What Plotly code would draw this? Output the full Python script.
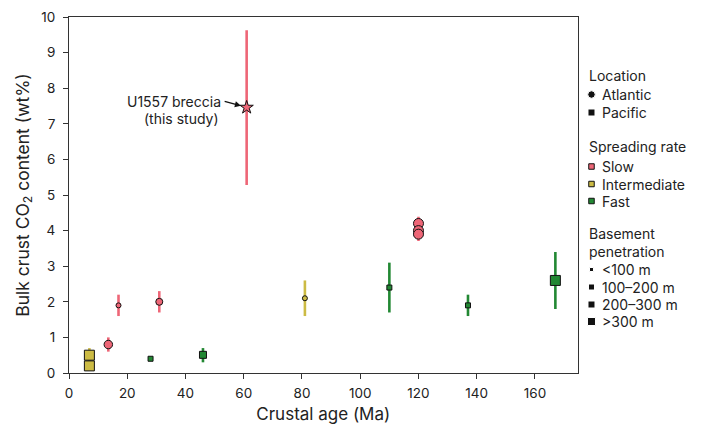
import plotly.graph_objects as go

# ---------------- data ----------------
age = [13.5, 17, 31, 120, 120, 120, 81, 7, 7, 28, 46, 110, 137, 167]
co2 = [0.8, 1.9, 2.0, 4.2, 4.0, 3.9, 2.1, 0.5, 0.2, 0.4, 0.51, 2.4, 1.9, 2.6]
co2_hi = [1.0, 2.2, 2.3, 4.39, 4.2, 4.1, 2.6, 0.7, 0.2, 0.45, 0.7, 3.1, 2.2, 3.4]
co2_lo = [0.6, 1.6, 1.7, 4.0, 3.71, 3.9, 1.6, 0.3, 0.2, 0.35, 0.3, 1.7, 1.6, 1.8]
location = ["Atlantic", "Atlantic", "Atlantic", "Atlantic", "Atlantic", "Atlantic", "Atlantic",
            "Pacific", "Pacific", "Pacific", "Pacific", "Pacific", "Pacific", "Pacific"]
rate = ["Slow", "Slow", "Slow", "Slow", "Slow", "Slow", "Intermediate",
        "Intermediate", "Intermediate", "Fast", "Fast", "Fast", "Fast", "Fast"]
penetration = ["200–300 m", "<100 m", "100–200 m", ">300 m", ">300 m", ">300 m", "<100 m",
               ">300 m", ">300 m", "<100 m", "100–200 m", "<100 m", "<100 m", ">300 m"]

# this study
study_age = [61]
study_co2 = [7.46]
study_hi = [9.63]
study_lo = [5.28]

# legend contents
loc_labels = ["Atlantic", "Pacific"]
rate_labels = ["Slow", "Intermediate", "Fast"]
pen_labels = ["<100 m", "100–200 m", "200–300 m", ">300 m"]

x_ticks = [0, 20, 40, 60, 80, 100, 120, 140, 160]
y_ticks = [0, 1, 2, 3, 4, 5, 6, 7, 8, 9, 10]

# ---------------- styles ----------------
FONT = "Inter"
rate_color = {"Slow": "#EE6677", "Intermediate": "#CCBB44", "Fast": "#228833"}
loc_symbol = {"Atlantic": "circle", "Pacific": "square"}
pen_size = {"<100 m": 5, "100–200 m": 7, "200–300 m": 8.5, ">300 m": 10}
pen_legend_size = {"<100 m": 4, "100–200 m": 6, "200–300 m": 7, ">300 m": 8}

W, H = 701, 429
ML, MR, MT, MB = 69, 0, 17, 56
plot_w = W - ML - MR
main_right_px = 577.5
dom_main = (main_right_px - ML) / plot_w
dom_leg0 = 0.81
leg_x0 = ML + dom_leg0 * plot_w

fig = go.Figure()

# main data traces grouped by location & spreading rate
groups = []
for loc, r in zip(location, rate):
    if (loc, r) not in groups:
        groups.append((loc, r))

for loc, r in groups:
    idx = [i for i in range(len(age)) if location[i] == loc and rate[i] == r]
    xs = [age[i] for i in idx]
    ys = [co2[i] for i in idx]
    up = [co2_hi[i] - co2[i] for i in idx]
    dn = [co2[i] - co2_lo[i] for i in idx]
    sz = [pen_size[penetration[i]] for i in idx]
    fig.add_trace(go.Scatter(
        x=xs, y=ys, mode="markers", showlegend=False,
        marker=dict(symbol=loc_symbol[loc], size=sz, color=rate_color[r], opacity=1,
                    line=dict(color="#111111", width=1)),
        error_y=dict(type="data", symmetric=False, array=up, arrayminus=dn,
                     color=rate_color[r], thickness=2.6, width=0),
    ))

# this study
fig.add_trace(go.Scatter(
    x=study_age, y=study_co2, mode="markers", showlegend=False,
    marker=dict(symbol="star", size=10, color=rate_color["Slow"], opacity=1,
                line=dict(color="#111111", width=1)),
    error_y=dict(type="data", symmetric=False,
                 array=[h - v for h, v in zip(study_hi, study_co2)],
                 arrayminus=[v - l for v, l in zip(study_co2, study_lo)],
                 color=rate_color["Slow"], thickness=2.6, width=0),
))

annotations = []
annotations.append(dict(
    x=study_age[0], y=study_co2[0], xref="x", yref="y",
    text="U1557 breccia", showarrow=True, xanchor="right", yanchor="middle",
    ax=-22, ay=-6, standoff=6, arrowhead=2, arrowsize=1, arrowwidth=1.2,
    arrowcolor="#111111", borderpad=3,
    font=dict(family=FONT, size=14, color="#222222")))
annotations.append(dict(
    x=study_age[0], y=study_co2[0], xref="x", yref="y",
    text="(this study)", showarrow=False, xanchor="right", yanchor="middle",
    xshift=-26, yshift=-11,
    font=dict(family=FONT, size=14, color="#222222")))

# ---------------- custom legend (auxiliary pixel axes) ----------------
mk_x = 591.5
txt_x = 600
title_x = 586.5
leg_font = dict(family=FONT, size=14, color="#222222")

def add_title(text, y):
    annotations.append(dict(x=title_x, y=y, xref="x2", yref="y2", text=text,
                            showarrow=False, xanchor="left", yanchor="middle",
                            align="left", font=leg_font))

def add_item(text, y):
    annotations.append(dict(x=txt_x, y=y, xref="x2", yref="y2", text=text,
                            showarrow=False, xanchor="left", yanchor="middle",
                            font=leg_font))

loc_y = [94.5, 112.5]
rate_y = [166.5, 184, 201]
pen_y = [269.5, 287, 304.5, 321.5]

add_title("Location", 75.5)
fig.add_trace(go.Scatter(
    x=[mk_x] * len(loc_labels), y=loc_y, xaxis="x2", yaxis="y2", mode="markers",
    showlegend=False, hoverinfo="skip",
    marker=dict(symbol=[loc_symbol[l] for l in loc_labels], size=[7.5, 7], color="#111111",
                opacity=1)))
for t, y in zip(loc_labels, loc_y):
    add_item(t, y)

add_title("Spreading rate", 146.5)
fig.add_trace(go.Scatter(
    x=[mk_x] * len(rate_labels), y=rate_y, xaxis="x2", yaxis="y2", mode="markers",
    showlegend=False, hoverinfo="skip",
    marker=dict(symbol="square", size=5.5, color=[rate_color[r] for r in rate_labels],
                opacity=1, line=dict(color="#111111", width=1))))
for t, y in zip(rate_labels, rate_y):
    add_item(t, y)

add_title("Basement<br>penetration", 242.5)
fig.add_trace(go.Scatter(
    x=[mk_x] * len(pen_labels), y=pen_y, xaxis="x2", yaxis="y2", mode="markers",
    showlegend=False, hoverinfo="skip",
    marker=dict(symbol="square", size=[pen_legend_size[p] for p in pen_labels],
                color="#111111", opacity=1)))
for t, y in zip(pen_labels, pen_y):
    add_item(t, y)

axis_color = "#333333"
fig.update_layout(
    width=W, height=H,
    margin=dict(l=ML, r=MR, t=MT, b=MB, pad=0),
    paper_bgcolor="white", plot_bgcolor="white",
    font=dict(family=FONT, size=13, color="#222222"),
    showlegend=False,
    xaxis=dict(domain=[0, dom_main], range=[0, 174.6], tickvals=x_ticks,
               ticks="outside", ticklen=5, tickwidth=1, tickcolor=axis_color,
               showline=True, linecolor=axis_color, linewidth=1, mirror=True,
               showgrid=False, zeroline=False, ticklabelstandoff=3,
               tickfont=dict(family=FONT, size=13.5, color="#222222"),
               title=dict(text="Crustal age (Ma)", standoff=7,
                          font=dict(family=FONT, size=17, color="#222222"))),
    yaxis=dict(range=[0, 10], tickvals=y_ticks,
               ticks="outside", ticklen=5, tickwidth=1, tickcolor=axis_color,
               showline=True, linecolor=axis_color, linewidth=1, mirror=True,
               showgrid=False, zeroline=False, ticklabelstandoff=5,
               tickfont=dict(family=FONT, size=13.5, color="#222222"),
               title=dict(text="Bulk crust CO<sub>2</sub> content (wt%)", standoff=7,
                          font=dict(family=FONT, size=17.5, color="#222222"))),
    xaxis2=dict(domain=[dom_leg0, 1], range=[leg_x0, W], visible=False,
                anchor="y2", fixedrange=True),
    yaxis2=dict(domain=[0, 1], range=[H - MB, MT], visible=False,
                anchor="x2", fixedrange=True),
    annotations=annotations,
)

fig.write_html("out.html")
